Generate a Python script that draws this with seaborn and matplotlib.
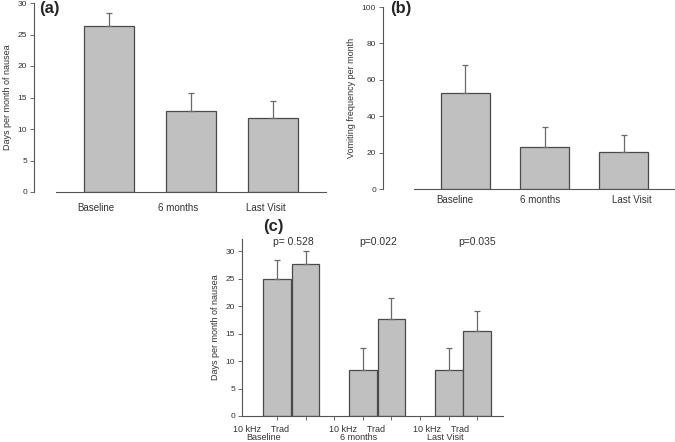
import numpy as np
import pandas as pd
import matplotlib
matplotlib.use("Agg")
import matplotlib.pyplot as plt
import seaborn as sns

# data
visits = ["Baseline", "6 months", "Last Visit"]
nausea_days = [26.3, 12.8, 11.7]
nausea_sem = [2.1, 2.9, 2.8]
vomit_freq = [52.5, 23.2, 20.2]
vomit_sem = [15.8, 11.0, 9.4]

arms = ["10 kHz", "Trad"]
arm_days = [[25.0, 27.7], [8.4, 17.6], [8.4, 15.4]]
arm_sem = [[3.4, 2.3], [3.9, 3.8], [3.9, 3.7]]
p_values = ["p= 0.528", "p=0.022", "p=0.035"]

sns.set_style("ticks")
plt.rcParams["font.family"] = ["Liberation Sans", "DejaVu Sans"]

BAR = "#c0c0c0"
EDGE = "#4a4a4a"
ERR = "#6a6a6a"
TXT = "#333333"

fig = plt.figure(figsize=(6.75, 4.42), dpi=100)
W, H = 675, 442


def px_axes(x0, x1, ybot, ytop):
    return fig.add_axes([x0 / W, 1 - ybot / H, (x1 - x0) / W, (ybot - ytop) / H])


def style(ax, outward):
    sns.despine(ax=ax)
    ax.spines["left"].set_position(("outward", outward))
    for s in ("left", "bottom"):
        ax.spines[s].set_color("#555555")
        ax.spines[s].set_linewidth(0.8)
    ax.tick_params(axis="y", length=3, width=0.6, colors="#555555",
                   labelsize=6, labelcolor=TXT, pad=2)
    ax.set_xlabel("")


def simple_panel(ax, vals, errs, ylab, ymax, ystep, label_x, pad):
    df = pd.DataFrame({"visit": visits, "value": vals})
    sns.barplot(data=df, x="visit", y="value", color=BAR, width=0.61,
                edgecolor=EDGE, linewidth=0.9, saturation=1, errorbar=None, ax=ax)
    ax.errorbar(range(len(vals)), vals, yerr=[np.zeros(len(errs)), errs],
                fmt="none", ecolor=ERR, elinewidth=0.9, capsize=2.5, capthick=0.9)
    ax.set_xlim(-0.65, 2.65)
    ax.set_ylim(0, ymax)
    ax.set_yticks(np.arange(0, ymax + 1, ystep))
    ax.set_xticks(label_x, visits)
    ax.set_ylabel(ylab, fontsize=6.5, color=TXT, labelpad=4)
    ax.tick_params(axis="x", length=0, labelsize=7, labelcolor=TXT, pad=pad)


# (a)
ax_a = px_axes(56, 326, 192, 3)
simple_panel(ax_a, nausea_days, nausea_sem, "Days per month of nausea", 30, 5,
             [-0.16, 0.84, 1.92], 8)
style(ax_a, 15.8)
fig.text(39 / W, 1 - 9 / H, "(a)", fontsize=12, fontweight="bold", va="center")

# (b)
ax_b = px_axes(414, 675, 189, 7)
simple_panel(ax_b, vomit_freq, vomit_sem, "Vomiting frequency per month", 100, 20,
             [-0.14, 0.94, 2.1], 4)
style(ax_b, 22.3)
fig.text(390 / W, 1 - 9 / H, "(b)", fontsize=12, fontweight="bold", va="center")

# (c)
rows = []
for g, visit in enumerate(visits):
    for a, arm in enumerate(arms):
        rows.append({"visit": visit, "arm": arm, "pos": g * 3 + a,
                     "value": arm_days[g][a], "sem": arm_sem[g][a]})
df_c = pd.DataFrame(rows)

ax_c = px_axes(242, 503, 416, 239)
sns.barplot(data=df_c, x="pos", y="value", native_scale=True, color=BAR,
            width=0.97, edgecolor=EDGE, linewidth=0.9, saturation=1,
            errorbar=None, ax=ax_c)
ax_c.errorbar(df_c["pos"], df_c["value"], yerr=[np.zeros(len(df_c)), df_c["sem"]],
              fmt="none", ecolor=ERR, elinewidth=0.9, capsize=2.5, capthick=0.9)
ax_c.set_xlim(-1.22, 7.9)
ax_c.set_ylim(0, 32.2)
ax_c.set_yticks(np.arange(0, 31, 5))
ax_c.set_xticks(np.arange(0, 8))
ax_c.set_xticklabels([])
ax_c.tick_params(axis="x", length=3, width=0.6, colors="#555555")
ax_c.set_ylabel("Days per month of nausea", fontsize=6.5, color=TXT, labelpad=4)
style(ax_c, 0)

lab_x = [-0.54, 2.8, 5.72]
grp_x = [-0.45, 2.87, 5.9]
p_x = [0.56, 3.53, 7.0]
for g, visit in enumerate(visits):
    ax_c.text(lab_x[g], -2.4, "10 kHz    Trad", fontsize=6.5, color=TXT,
              ha="center", va="center")
    ax_c.text(grp_x[g], -3.9, visit, fontsize=6.5, color=TXT,
              ha="center", va="center")
    ax_c.text(p_x[g], 31.7, p_values[g], fontsize=7.5, color=TXT,
              ha="center", va="center", clip_on=False)
fig.text(263 / W, 1 - 227 / H, "(c)", fontsize=12, fontweight="bold", va="center")

fig.savefig("out.png", dpi=100)
